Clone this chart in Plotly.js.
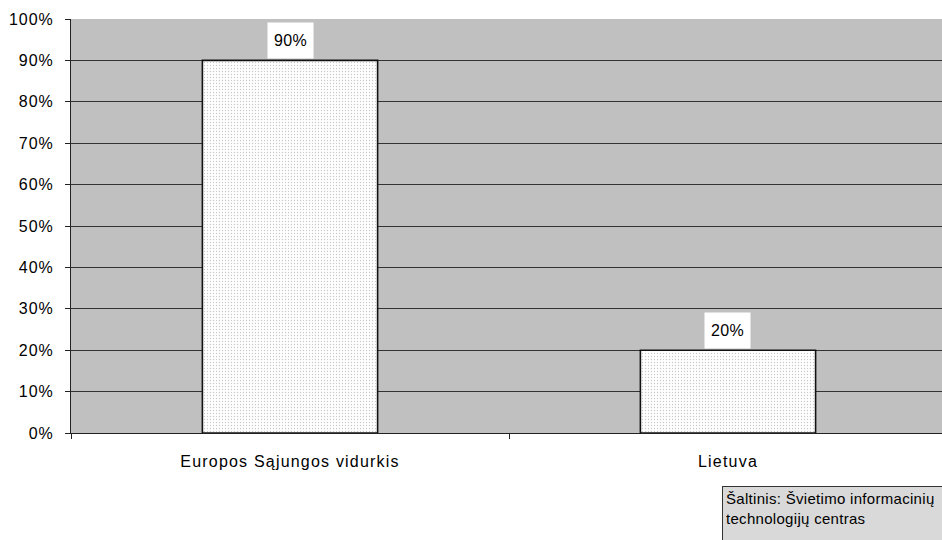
<!DOCTYPE html>
<html>
<head>
<meta charset="utf-8">
<script src="https://cdn.plot.ly/plotly-3.0.1.min.js"></script>
<style>
html,body{margin:0;padding:0;background:#fff;overflow:hidden;}
#chart{width:942px;height:540px;}
.xtick text{letter-spacing:1.2px;}
.ytick text{letter-spacing:1px;}
.annotation-text{letter-spacing:0.3px;}
</style>
</head>
<body>
<div id="chart"></div>
<script>
const categories = ["Europos Sąjungos vidurkis", "Lietuva"];
const values = [0.90, 0.20];
const valueLabels = ["90%", "20%"];
const sourceText = "Šaltinis: Švietimo informacinių<br>technologijų centras";

const trace = {
  type: "bar",
  x: categories,
  y: values,
  width: 0.4,
  marker: {
    color: "#ffffff",
    line: {color: "#111111", width: 1.6},
    pattern: {shape: ".", fgcolor: "#c8c8c8", bgcolor: "#ffffff", size: 3, solidity: 0.15}
  },
  hoverinfo: "none"
};

const annotations = categories.map((c, i) => ({
  x: c, y: values[i], xref: "x", yref: "y",
  text: valueLabels[i], showarrow: false,
  yanchor: "bottom", xanchor: "center",
  width: 45, height: 35, borderpad: 0, bgcolor: "#ffffff", yshift: 1,
  font: {family: "Liberation Sans, Arial, sans-serif", size: 16, color: "#000"}
}));
annotations.push({
  xref: "paper", yref: "paper", x: 0.7474, y: -0.128,
  xanchor: "left", yanchor: "top", align: "left", valign: "top",
  width: 240, height: 60,
  text: sourceText, showarrow: false,
  bgcolor: "#d9d9d9", bordercolor: "#333333", borderwidth: 1, borderpad: 3,
  font: {family: "Liberation Sans, Arial, sans-serif", size: 15, color: "#000"}
});

const layout = {
  width: 942, height: 540,
  margin: {l: 71, r: 0, t: 19, b: 107},
  paper_bgcolor: "#ffffff",
  plot_bgcolor: "#c0c0c0",
  showlegend: false,
  font: {family: "Liberation Sans, Arial, sans-serif", size: 16, color: "#000"},
  xaxis: {
    type: "category",
    range: [-0.5, 1.4886],
    showgrid: false,
    showline: true, linecolor: "#222222", linewidth: 1,
    ticks: "outside", tickson: "boundaries", ticklen: 5, tickcolor: "#222222",
    ticklabelstandoff: 14,
    tickfont: {size: 16}
  },
  yaxis: {
    range: [0, 1],
    dtick: 0.1, tick0: 0,
    tickformat: ".0%",
    showgrid: true, gridcolor: "#333333", gridwidth: 1,
    showline: true, linecolor: "#222222", linewidth: 1,
    ticks: "outside", ticklen: 5, tickcolor: "#222222",
    ticklabelstandoff: 8,
    zeroline: false,
    tickfont: {size: 16}
  },
  annotations: annotations
};

Plotly.newPlot("chart", [trace], layout, {displayModeBar: false, staticPlot: true});
</script>
</body>
</html>
